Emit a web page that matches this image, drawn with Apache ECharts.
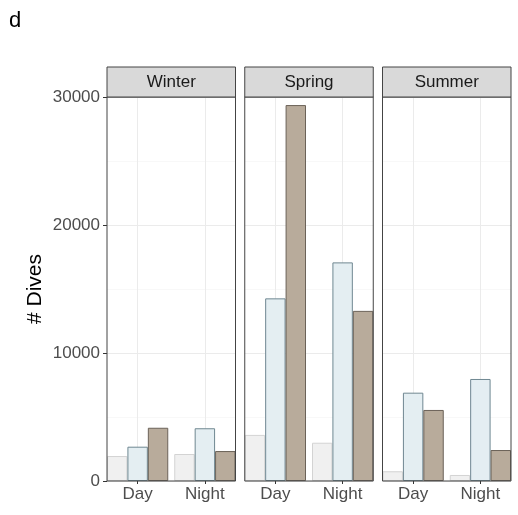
<!DOCTYPE html>
<html>
<head>
<meta charset="utf-8">
<script src="https://cdn.jsdelivr.net/npm/echarts@6/dist/echarts.min.js"></script>
<style>html,body{margin:0;padding:0;background:#fff}#c{width:518px;height:515px}</style>
</head>
<body>
<div id="c"></div>
<script>
const seasons = ['Winter', 'Spring', 'Summer'];
const categories = ['Day', 'Night'];
const yTicks = [0, 10000, 20000, 30000];
// three dodged groups per panel: [Day, Night]
const grayValues  = [[1950, 2110], [3600, 2990], [760, 470]];
const blueValues  = [[2680, 4120], [14270, 17080], [6900, 7970]];
const brownValues = [[4160, 2340], [29370, 13290], [5550, 2420]];

const FONT = 'Liberation Sans';
const panelLeft = [107, 244.75, 382.5];
const panelW = 128.5;
const panelTop = 97, panelBottom = 481;
const pad = 3;

const grids = [], xAxes = [], yAxes = [], series = [], graphics = [];
const styles = [
  {fill: '#f0f0f0', stroke: '#d3d3d3', data: grayValues},
  {fill: '#e4eef2', stroke: '#6f8791', data: blueValues},
  {fill: '#b8ab9b', stroke: '#6b6258', data: brownValues}
];

seasons.forEach((s, i) => {
  grids.push({left: panelLeft[i], top: panelTop, width: panelW, height: panelBottom - panelTop});
  grids.push({left: panelLeft[i] - pad, top: panelTop, width: panelW + 2 * pad, height: panelBottom - panelTop});
  const gP = 2 * i, gB = 2 * i + 1;
  xAxes.push({gridIndex: gP, type: 'category', data: categories, show: false});
  yAxes.push({
    gridIndex: gP, type: 'value', min: yTicks[0], max: yTicks[yTicks.length - 1], interval: 10000,
    axisLine: {show: false},
    axisTick: {show: i === 0, length: 4, lineStyle: {color: '#333'}},
    axisLabel: {show: i === 0, margin: 7, color: '#4d4d4d', fontSize: 17, fontFamily: FONT,
      formatter: v => String(v)},
    splitLine: {show: true, lineStyle: {color: '#ebebeb', width: 1}},
    minorTick: {show: false, splitNumber: 2},
    minorSplitLine: {show: true, lineStyle: {color: '#f4f4f4', width: 0.6}}
  });
  xAxes.push({
    gridIndex: gB, type: 'category', data: categories, boundaryGap: true,
    axisLine: {show: false},
    axisTick: {show: true, alignWithLabel: true, length: 3, lineStyle: {color: '#333'}},
    axisLabel: {margin: 5, color: '#4d4d4d', fontSize: 17, fontFamily: FONT},
    splitLine: {show: true, alignWithLabel: true, lineStyle: {color: '#ebebeb', width: 1}}
  });
  yAxes.push({gridIndex: gB, type: 'value', min: yTicks[0], max: yTicks[yTicks.length - 1], show: false, splitLine: {show: false}});
  styles.forEach((st) => {
    series.push({
      type: 'bar', xAxisIndex: gB, yAxisIndex: gB, data: st.data[i],
      barGap: '0%', barCategoryGap: (6 / ((panelW + 2 * pad) / 2) * 100).toFixed(2) + '%',
      itemStyle: {color: st.fill, borderColor: st.stroke, borderWidth: 1},
      silent: true, z: 3
    });
  });
  graphics.push({type: 'rect', shape: {x: panelLeft[i], y: panelTop, width: panelW, height: panelBottom - panelTop},
    style: {fill: 'none', stroke: '#444', lineWidth: 1}, z: 100});
  graphics.push({type: 'rect', shape: {x: panelLeft[i], y: 67, width: panelW, height: panelTop - 67},
    style: {fill: '#d9d9d9', stroke: '#444', lineWidth: 1}, z: 100});
  graphics.push({type: 'text', x: panelLeft[i] + panelW / 2, y: 82,
    style: {text: s, fill: '#1a1a1a', font: '17px "' + FONT + '"', textAlign: 'center', textVerticalAlign: 'middle'}, z: 101});
});

graphics.push({type: 'text', x: 9, y: 21, style: {text: 'd', fill: '#000', font: '22px "' + FONT + '"', textVerticalAlign: 'middle'}, z: 101});
graphics.push({type: 'text', x: 35, y: 289, rotation: Math.PI / 2,
  style: {text: '# Dives', fill: '#000', font: '21px "' + FONT + '"', textAlign: 'center', textVerticalAlign: 'middle'}, z: 101});

const chart = echarts.init(document.getElementById('c'), null, {renderer: 'canvas'});
chart.setOption({
  animation: false,
  backgroundColor: '#fff',
  grid: grids, xAxis: xAxes, yAxis: yAxes, series: series, graphic: graphics
});
</script>
</body>
</html>
